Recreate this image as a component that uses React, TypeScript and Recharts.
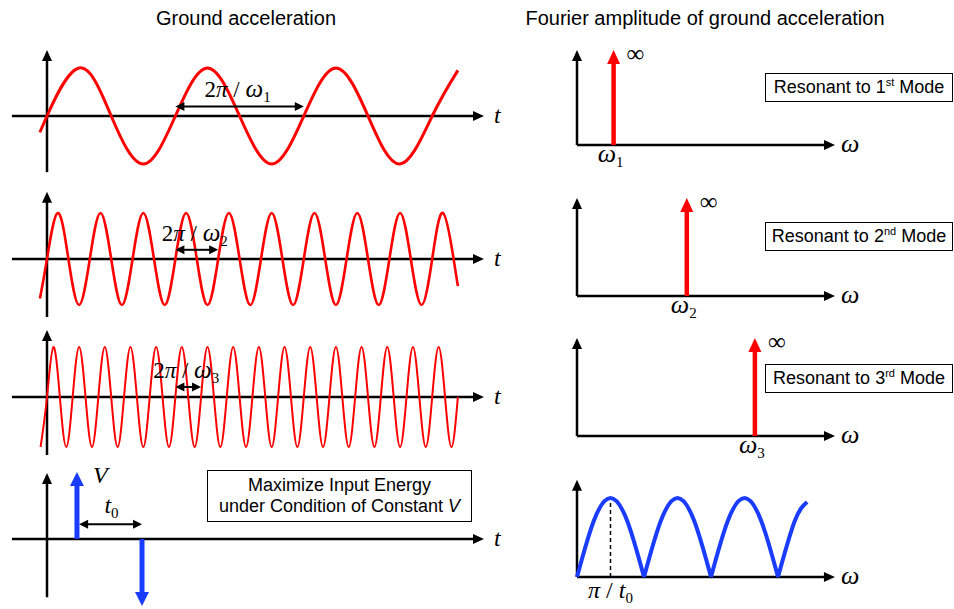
import React from 'react'
import { LineChart, Line, XAxis, YAxis, ReferenceLine, ReferenceDot } from 'recharts'

const RED = '#ff0000'
const BLUE = '#1a3cff'
const INK = '#000000'
const SANS = '"Liberation Sans", Arial, sans-serif'
const SERIF = '"Liberation Serif", "Times New Roman", serif'

// Ground acceleration samples [t, a]; t in ticks (15 ticks = quarter period of mode 1)
const wave1: [number, number][] = [
  [-3.3, -0.34], [0, 0], [15, 1], [30, 0], [45, -1], [60, 0], [75, 1], [90, 0], [105, -1],
  [120, 0], [135, 1], [150, 0], [165, -1], [180, 0], [192, 0.95]
]
const wave2: [number, number][] = [
  [-3.3, -0.86], [0, 0], [5, 1], [10, 0], [15, -1], [20, 0], [25, 1], [30, 0], [35, -1], [40, 0],
  [45, 1], [50, 0], [55, -1], [60, 0], [65, 1], [70, 0], [75, -1], [80, 0], [85, 1], [90, 0],
  [95, -1], [100, 0], [105, 1], [110, 0], [115, -1], [120, 0], [125, 1], [130, 0], [135, -1],
  [140, 0], [145, 1], [150, 0], [155, -1], [160, 0], [165, 1], [170, 0], [175, -1], [180, 0],
  [185, 1], [190, 0], [192, -0.59]
]
const wave3: [number, number][] = [
  [-3, -1], [0, 0], [3, 1], [6, 0], [9, -1], [12, 0], [15, 1], [18, 0], [21, -1], [24, 0],
  [27, 1], [30, 0], [33, -1], [36, 0], [39, 1], [42, 0], [45, -1], [48, 0], [51, 1], [54, 0],
  [57, -1], [60, 0], [63, 1], [66, 0], [69, -1], [72, 0], [75, 1], [78, 0], [81, -1], [84, 0],
  [87, 1], [90, 0], [93, -1], [96, 0], [99, 1], [102, 0], [105, -1], [108, 0], [111, 1], [114, 0],
  [117, -1], [120, 0], [123, 1], [126, 0], [129, -1], [132, 0], [135, 1], [138, 0], [141, -1],
  [144, 0], [147, 1], [150, 0], [153, -1], [156, 0], [159, 1], [162, 0], [165, -1], [168, 0],
  [171, 1], [174, 0], [177, -1], [180, 0], [183, 1], [186, 0], [189, -1], [192, 0]
]
// one period marked on each wave [from, to]
const periodMarks: [number, number][] = [[60, 120], [60, 80], [60, 72]]
const modeSubs = ['1', '2', '3']

// velocity pulse pair
const pulseTimes = [14, 44.4]
const pulseValues = [1, -1]

// Fourier amplitude: spikes at mode frequencies (units of ω1)
const modeFreqs = [1, 3, 4.86]
const modeOrdinals = ['st', 'nd', 'rd']
const spikeHeight = 1

// |F(ω)| of the pulse pair, ω in units of π/t0
const spectrumArches: [number, number][][] = [
  [[0, 0], [0.5, 0.71], [1, 1], [1.5, 0.71], [2, 0]],
  [[2, 0], [2.5, 0.71], [3, 1], [3.5, 0.71], [4, 0]],
  [[4, 0], [4.5, 0.71], [5, 1], [5.5, 0.71], [6, 0]],
  [[6, 0], [6.5, 0.71], [6.87, 0.95]]
]

type Frame = {
  left: number; top: number; width: number; height: number
  originX: number; originY: number; pxPerX: number; pxPerY: number
}

const leftFrames: Frame[] = [
  { left: 4, top: 40, width: 524, height: 145, originX: 47, originY: 116, pxPerX: 2.14, pxPerY: 48 },
  { left: 4, top: 185, width: 524, height: 140, originX: 47, originY: 259, pxPerX: 2.14, pxPerY: 46 },
  { left: 4, top: 325, width: 524, height: 135, originX: 47, originY: 397, pxPerX: 2.14, pxPerY: 50 },
  { left: 4, top: 460, width: 524, height: 149, originX: 47, originY: 539, pxPerX: 2.14, pxPerY: 67 }
]
const leftYAxis: [number, number][] = [[-1.17, 1.375], [-1.26, 1.46], [-1.16, 1.34], [-0.87, 0.985]]
const leftXAxis: [number, number] = [-16.4, 204.2]

const rightFrames: Frame[] = [
  { left: 560, top: 40, width: 330, height: 135, originX: 577, originY: 145, pxPerX: 36.6, pxPerY: 95 },
  { left: 560, top: 185, width: 330, height: 140, originX: 577, originY: 296, pxPerX: 36.6, pxPerY: 98 },
  { left: 560, top: 325, width: 330, height: 140, originX: 577, originY: 436, pxPerX: 36.6, pxPerY: 98 },
  { left: 560, top: 465, width: 330, height: 144, originX: 577, originY: 577, pxPerX: 33.5, pxPerY: 79 }
]
const rightYTop = [1, 1, 1, 1.23]
const rightXEnd = [7.05, 7.05, 7.05, 7.7]

const toRows = (pts: [number, number][]) => pts.map(([t, v]) => ({ t, v }))

function arrowShape(color: string, width: number, headLen: number, headHalf: number, both = false) {
  return (p: any) => {
    const { x1, y1, x2, y2 } = p
    const len = Math.hypot(x2 - x1, y2 - y1) || 1
    const ux = (x2 - x1) / len
    const uy = (y2 - y1) / len
    const nx = -uy
    const ny = ux
    const head = (tx: number, ty: number, dx: number, dy: number) =>
      `${tx},${ty} ${tx - dx * headLen + nx * headHalf},${ty - dy * headLen + ny * headHalf} ${tx - dx * headLen - nx * headHalf},${ty - dy * headLen - ny * headHalf}`
    const sx = both ? x1 + ux * headLen * 0.8 : x1
    const sy = both ? y1 + uy * headLen * 0.8 : y1
    return (
      <g>
        <line x1={sx} y1={sy} x2={x2 - ux * headLen * 0.8} y2={y2 - uy * headLen * 0.8} stroke={color} strokeWidth={width} />
        <polygon points={head(x2, y2, ux, uy)} fill={color} />
        {both && <polygon points={head(x1, y1, -ux, -uy)} fill={color} />}
      </g>
    )
  }
}

const axisArrow = arrowShape(INK, 2.5, 11, 5)
const periodArrow = arrowShape(INK, 2, 9, 4.5, true)

function arrow(key: string, x1: number, y1: number, x2: number, y2: number, shape: any) {
  return (
    <ReferenceLine
      key={key}
      segment={[{ x: x1, y: y1 }, { x: x2, y: y2 }]}
      ifOverflow="visible"
      shape={shape}
    />
  )
}

function tag(key: string, x: number, y: number, dx: number, dy: number, content: React.ReactNode, anchor = 'start', size = 23) {
  return (
    <ReferenceDot
      key={key}
      x={x}
      y={y}
      r={0}
      ifOverflow="visible"
      shape={(p: any) => (
        <text x={p.cx + dx} y={p.cy + dy} textAnchor={anchor} fontFamily={SERIF} fontSize={size} fill={INK}>
          {content}
        </text>
      )}
    />
  )
}

function Panel({ frame, children }: { frame: Frame; children: React.ReactNode }) {
  const { left, top, width, height, originX, originY, pxPerX, pxPerY } = frame
  const xDomain = [(left - originX) / pxPerX, (left + width - originX) / pxPerX]
  const yDomain = [(originY - top - height) / pxPerY, (originY - top) / pxPerY]
  return (
    <div style={{ position: 'absolute', left, top, width, height }}>
      <LineChart width={width} height={height} margin={{ top: 0, right: 0, bottom: 0, left: 0 }}>
        <XAxis type="number" dataKey="t" domain={xDomain} hide allowDataOverflow />
        <YAxis type="number" dataKey="v" domain={yDomain} hide allowDataOverflow />
        {children}
      </LineChart>
    </div>
  )
}

const waves = [wave1, wave2, wave3]
const waveWidths = [3, 2.6, 2]

function Box({ left, top, width, height, children }: any) {
  return (
    <div
      style={{
        position: 'absolute', left, top, width, height, boxSizing: 'border-box',
        border: '1.5px solid #000', background: '#fff', display: 'flex', flexDirection: 'column',
        alignItems: 'center', justifyContent: 'center', fontFamily: SANS, fontSize: 18,
        lineHeight: '21px', color: INK, whiteSpace: 'nowrap'
      }}
    >
      {children}
    </div>
  )
}

const sup = { fontSize: 11, verticalAlign: 'super', lineHeight: 0 } as const

export default function App() {
  return (
    <div style={{ position: 'absolute', left: 0, top: 0, width: 954, height: 609, background: '#fff', overflow: 'hidden' }}>
      <div style={{ position: 'absolute', left: 96, top: 6, width: 300, textAlign: 'center', fontFamily: SANS, fontSize: 20, lineHeight: '24px' }}>
        Ground acceleration
      </div>
      <div style={{ position: 'absolute', left: 505, top: 6, width: 400, textAlign: 'center', fontFamily: SANS, fontSize: 20, lineHeight: '24px' }}>
        Fourier amplitude of ground acceleration
      </div>

      {waves.map((w, i) => {
        const [pa, pb] = periodMarks[i]
        return (
          <Panel key={`w${i}`} frame={leftFrames[i]}>
            {arrow('xa', leftXAxis[0], 0, leftXAxis[1], 0, axisArrow)}
            {arrow('ya', 0, leftYAxis[i][0], 0, leftYAxis[i][1], axisArrow)}
            {tag('tl', leftXAxis[1], 0, 10, 7, <tspan fontStyle="italic">t</tspan>, 'start', 24)}
            <Line
              data={toRows(w)}
              dataKey="v"
              type="natural"
              stroke={RED}
              strokeWidth={waveWidths[i]}
              dot={false}
              activeDot={false}
              isAnimationActive={false}
            />
            {arrow('pm', pa, 0.2, pb, 0.2, periodArrow)}
            {tag('pl', (pa + pb) / 2, 0.2, -2, -9, (
              <>
                <tspan>2</tspan>
                <tspan fontStyle="italic">π</tspan>
                <tspan> / </tspan>
                <tspan fontStyle="italic" fontSize={25}>ω</tspan>
                <tspan fontSize={15} dy={5}>{modeSubs[i]}</tspan>
              </>
            ), 'middle')}
          </Panel>
        )
      })}

      <Panel frame={leftFrames[3]}>
        {arrow('xa', leftXAxis[0], 0, leftXAxis[1], 0, axisArrow)}
        {arrow('ya', 0, leftYAxis[3][0], 0, leftYAxis[3][1], axisArrow)}
        {tag('tl', leftXAxis[1], 0, 10, 7, <tspan fontStyle="italic">t</tspan>, 'start', 24)}
        {pulseTimes.map((t, i) => arrow(`p${i}`, t, 0, t, pulseValues[i], arrowShape(BLUE, 5, 14, 7)))}
        {tag('V', pulseTimes[0], pulseValues[0], 16, 11, <tspan fontStyle="italic">V</tspan>, 'start', 24)}
        {arrow('t0a', pulseTimes[0] + 1, 0.22, pulseTimes[1], 0.22, periodArrow)}
        {tag('t0', (pulseTimes[0] + pulseTimes[1]) / 2, 0.22, 2, -11, (
          <>
            <tspan fontStyle="italic">t</tspan>
            <tspan fontSize={15} dy={5}>0</tspan>
          </>
        ), 'middle', 24)}
      </Panel>
      <Box left={207} top={470} width={265} height={52}>
        <div>Maximize Input Energy</div>
        <div>under Condition of Constant <i>V</i></div>
      </Box>

      {modeFreqs.map((f, i) => (
        <Panel key={`m${i}`} frame={rightFrames[i]}>
          {arrow('xa', 0, 0, rightXEnd[i], 0, axisArrow)}
          {arrow('ya', 0, 0, 0, rightYTop[i], axisArrow)}
          {tag('wl', rightXEnd[i], 0, 6, 7, <tspan fontStyle="italic">ω</tspan>, 'start', 26)}
          {arrow('sp', f, 0, f, spikeHeight, arrowShape(RED, 4.5, 14, 6.5))}
          {tag('inf', f, spikeHeight, 13, 12, '∞', 'start', 25)}
          {tag('wn', f, 0, -3, 17, (
            <>
              <tspan fontStyle="italic" fontSize={26}>ω</tspan>
              <tspan fontSize={15} dy={5}>{modeSubs[i]}</tspan>
            </>
          ), 'middle')}
        </Panel>
      ))}
      {modeFreqs.map((f, i) => (
        <Box key={`b${i}`} left={765} top={[73, 222, 364][i]} width={188} height={29}>
          <div>
            Resonant to {i + 1}
            <span style={sup}>{modeOrdinals[i]}</span> Mode
          </div>
        </Box>
      ))}

      <Panel frame={rightFrames[3]}>
        {arrow('xa', 0, 0, rightXEnd[3], 0, axisArrow)}
        {arrow('ya', 0, 0, 0, rightYTop[3], axisArrow)}
        {tag('wl', rightXEnd[3], 0, 6, 7, <tspan fontStyle="italic">ω</tspan>, 'start', 26)}
        <ReferenceLine
          segment={[{ x: 1, y: 0 }, { x: 1, y: 1 }]}
          stroke={INK}
          strokeWidth={1.5}
          strokeDasharray="4 3"
          ifOverflow="visible"
        />
        {spectrumArches.map((a, i) => (
          <Line
            key={`a${i}`}
            data={toRows(a)}
            dataKey="v"
            type="natural"
            stroke={BLUE}
            strokeWidth={4}
            dot={false}
            activeDot={false}
            isAnimationActive={false}
          />
        ))}
        {tag('pt', 1, 0, 0, 21, (
          <>
            <tspan fontStyle="italic">π</tspan>
            <tspan> / </tspan>
            <tspan fontStyle="italic">t</tspan>
            <tspan fontSize={15} dy={5}>0</tspan>
          </>
        ), 'middle', 24)}
      </Panel>
    </div>
  )
}
